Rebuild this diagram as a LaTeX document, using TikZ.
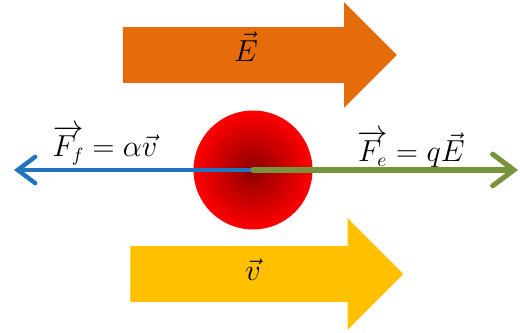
\documentclass[tikz,border=0pt]{standalone}
\usepackage{amsmath}
\usetikzlibrary{shapes.arrows, arrows.meta, positioning}

\definecolor{fieldorange}{HTML}{E46C0A}
\definecolor{speedyellow}{HTML}{FFC000}
\definecolor{frictionblue}{HTML}{1F74C0}
\definecolor{forcegreen}{HTML}{77933C}

\begin{document}
\begin{tikzpicture}[
    x=0.02cm, y=-0.02cm,
    bigarrow/.style={single arrow, draw=none, inner xsep=0pt, inner ysep=0.325cm, text height=0.35cm, text depth=0.1cm, font=\fontsize{16}{19}\selectfont},
    force/.style={line width=2.5pt, line cap=round},
    label/.style={font=\fontsize{16}{19}\selectfont, inner sep=1pt}
]
    \useasboundingbox (0,0) rectangle (520,333);

    \node[bigarrow, fill=fieldorange, minimum height=5.48cm, single arrow head extend=0.5cm] (field) at (246,55) {$\vec{E}$};
    \node[bigarrow, fill=speedyellow, minimum height=5.46cm, single arrow head extend=0.56cm] (speed) at (253,274) {$\vec{v}$};

    \node[circle, minimum size=2.38cm, inner color=red!55!black, outer color=red] (charge) at (253,170) {};

    \coordinate (fleft) at (14,170);
    \coordinate (fright) at (518,170);

    \draw[force, frictionblue, -{Straight Barb[length=10pt, width=15pt, line cap=round]}] (charge.center) -- (fleft);
    \draw[force, forcegreen, line width=2.9pt, -{Straight Barb[length=12pt, width=18pt, line cap=round]}] (charge.center) -- (fright);

    \node[label] (fric) at (105,145) {$\overrightarrow{F_f} = \alpha\vec{v}$};
    \node[label] (elec) at (411,149) {$\overrightarrow{F_e} = q\vec{E}$};
\end{tikzpicture}
\end{document}
